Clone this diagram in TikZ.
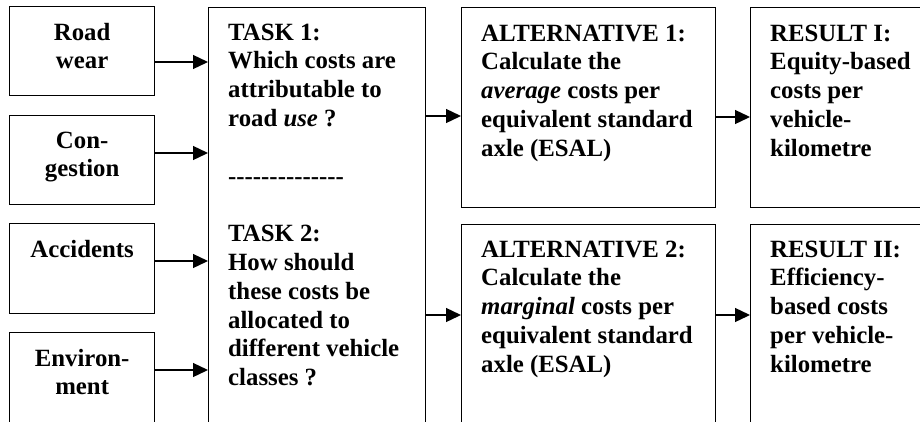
\documentclass[tikz,border=0pt]{standalone}
\usepackage{fontspec}
\setmainfont{Liberation Serif}
\usetikzlibrary{arrows.meta,calc}
\begin{document}
\begin{tikzpicture}[x=1pt,y=-1pt,
  box/.style={draw, line width=1.3pt, rectangle, inner sep=0pt, anchor=north west},
  conn/.style={line width=1.3pt, -{Triangle[length=15pt,width=14pt]}},
  txt/.style={inner sep=0pt, anchor=base west, font=\fontsize{24.8}{28.8}\selectfont\bfseries},
  ctxt/.style={txt, anchor=base}
]
\useasboundingbox (0,0) rectangle (920,421);
\clip (0,0) rectangle (920,421);

% cost categories
\node[box, minimum width=145pt, minimum height=89pt] (road) at (9,6) {};
\node[box, minimum width=145pt, minimum height=89pt] (cong) at (9,115) {};
\node[box, minimum width=145pt, minimum height=90pt] (acc)  at (9,223) {};
\node[box, minimum width=145pt, minimum height=120pt] (env) at (9,332) {};

% tasks
\node[box, minimum width=217pt, minimum height=440pt] (task) at (208,7) {};

% alternatives and results
\node[box, minimum width=254pt, minimum height=200pt] (alt1) at (461,7) {};
\node[box, minimum width=254pt, minimum height=220pt] (alt2) at (461,224) {};
\node[box, minimum width=200pt, minimum height=200pt] (res1) at (750,7) {};
\node[box, minimum width=200pt, minimum height=220pt] (res2) at (750,224) {};

% texts
\node[ctxt] (troad) at ($(road.north)+(0,34)$) {\parbox[t]{145pt}{\centering Road\\wear}};
\node[ctxt] (tcong) at ($(cong.north)+(0,33)$) {\parbox[t]{145pt}{\centering Con-\\gestion}};
\node[ctxt] (tacc)  at ($(acc.north)+(0,34)$)  {\parbox[t]{145pt}{\centering Accidents}};
\node[ctxt] (tenv)  at ($(env.north)+(0,34)$)  {\parbox[t]{145pt}{\centering Environ-\\ment}};

\node[txt] (ttask) at ($(task.north west)+(20,33)$) {\parbox[t]{300pt}{%
  TASK 1:\\
  Which costs are\\
  attributable to\\
  road \textit{use} ?\\[28.8pt]
  \mbox{-}\mbox{-}\mbox{-}\mbox{-}\mbox{-}\mbox{-}\mbox{-}\mbox{-}\mbox{-}\mbox{-}\mbox{-}\mbox{-}\mbox{-}\mbox{-}\\[28.8pt]
  TASK 2:\\
  How should\\
  these costs be\\
  allocated to\\
  different vehicle\\
  classes ?}};

\node[txt] (talt1) at ($(alt1.north west)+(20,34)$) {\parbox[t]{300pt}{%
  ALTERNATIVE 1:\\
  Calculate the\\
  \textit{average} costs per\\
  equivalent standard\\
  axle (ESAL)}};
\node[txt] (talt2) at ($(alt2.north west)+(20,33)$) {\parbox[t]{300pt}{%
  ALTERNATIVE 2:\\
  Calculate the\\
  \textit{marginal} costs per\\
  equivalent standard\\
  axle (ESAL)}};
\node[txt] (tres1) at ($(res1.north west)+(20,34)$) {\parbox[t]{300pt}{%
  RESULT I:\\
  Equity-based\\
  costs per\\
  vehicle-\\
  kilometre}};
\node[txt] (tres2) at ($(res2.north west)+(20,33)$) {\parbox[t]{300pt}{%
  RESULT II:\\
  Efficiency-\\
  based costs\\
  per vehicle-\\
  kilometre}};

% connectors
\coordinate (c1) at ($(road.north east)+(0,56)$);
\coordinate (c2) at ($(cong.north east)+(0,38)$);
\coordinate (c3) at ($(acc.north east)+(0,38)$);
\coordinate (c4) at ($(env.north east)+(0,38)$);
\draw[conn] (c1) -- (c1 -| task.west);
\draw[conn] (c2) -- (c2 -| task.west);
\draw[conn] (c3) -- (c3 -| task.west);
\draw[conn] (c4) -- (c4 -| task.west);

\coordinate (u1) at ($(alt1.north west)+(0,109)$);
\coordinate (u2) at ($(res1.north west)+(0,110)$);
\coordinate (v1) at ($(alt2.north west)+(0,91)$);
\draw[conn] (u1 -| task.east) -- (u1);
\draw[conn] (u2 -| alt1.east) -- (u2);
\draw[conn] (v1 -| task.east) -- (v1);
\draw[conn] (v1 -| alt2.east) -- (v1 -| res2.west);
\end{tikzpicture}
\end{document}
